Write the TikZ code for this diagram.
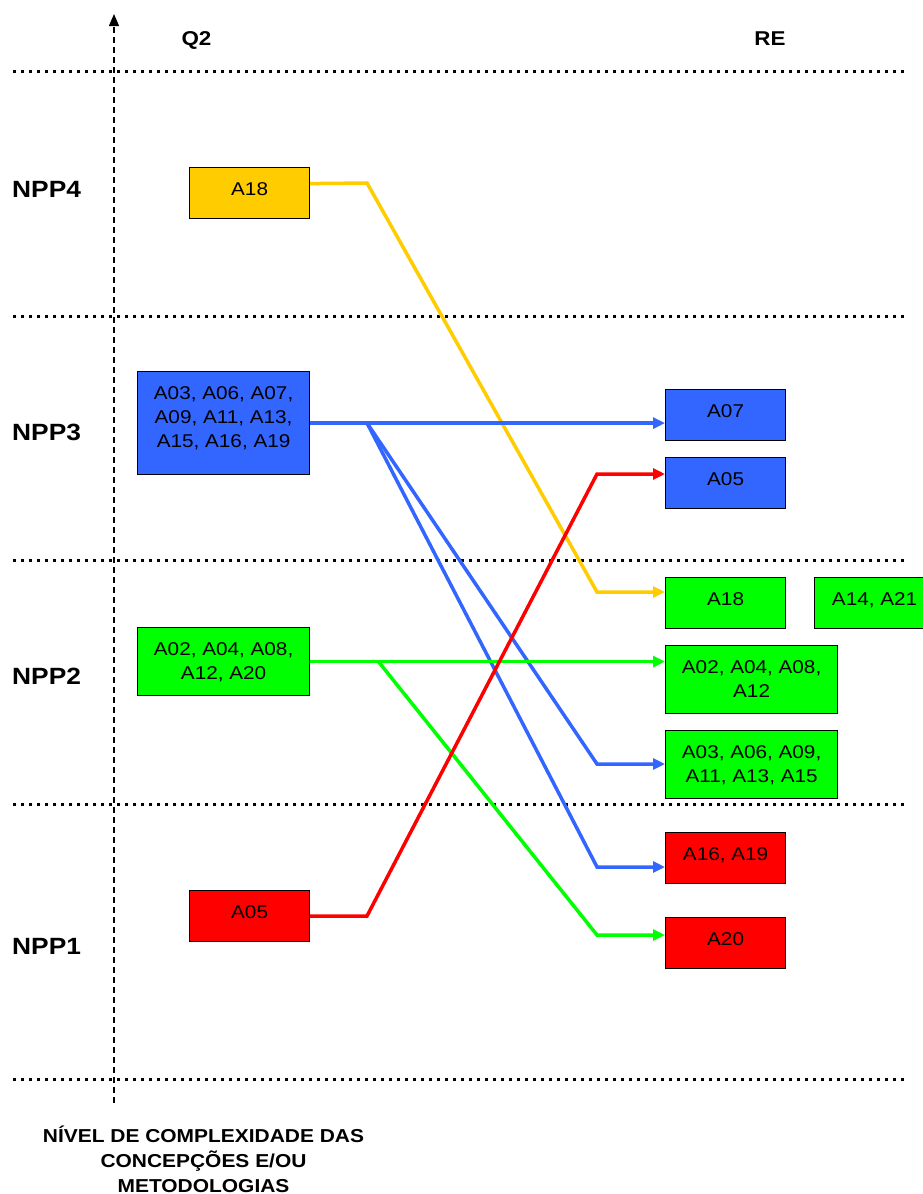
\documentclass[tikz,border=0pt]{standalone}
\usepackage{fontspec}
\setmainfont{Liberation Sans}[FakeStretch=1.12]
\usetikzlibrary{arrows.meta}
\definecolor{cyel}{HTML}{FFCC00}
\definecolor{cblu}{HTML}{3366FF}
\definecolor{cgrn}{HTML}{00FF00}
\definecolor{cred}{HTML}{FF0000}
\tikzset{
  box/.style={draw=black, line width=1.2pt, inner sep=0pt, align=center, anchor=north west,
    font=\fontsize{18.5}{24}\selectfont},
  onel/.style={text height=28pt, text depth=23pt},
  lvl/.style={anchor=base west, inner sep=0pt, font=\bfseries\fontsize{23.5}{28}\selectfont},
  head/.style={anchor=base, inner sep=0pt, font=\bfseries\fontsize{20}{24}\selectfont},
  sep/.style={line width=3pt, dash pattern=on 3pt off 5pt},
  axisline/.style={line width=1.3pt, dash pattern=on 6pt off 4pt, -{Triangle[length=12pt,width=10pt]}},
  conn/.style={line width=3.5pt, -{Triangle[length=12pt,width=11pt]}},
}
\begin{document}
\begin{tikzpicture}[x=1pt, y=-1pt]
\useasboundingbox (0,0) rectangle (923,1194);
% separators
\foreach \yy in {71,316,560,804,1079} \draw[sep] (13,\yy) -- (905,\yy);
% axis
\coordinate (axbot) at (114,1103);
\coordinate (axtop) at (114,14);
\draw[axisline] (axbot) -- (axtop);
% headers
\node[head] (hq2) at (196.5,45) {Q2};
\node[head] (hre) at (770,45) {RE};
% levels
\node[lvl] (npp4) at (12,197) {NPP4};
\node[lvl] (npp3) at (12,440) {NPP3};
\node[lvl] (npp2) at (12,684) {NPP2};
\node[lvl] (npp1) at (12,954) {NPP1};
% left boxes
\node[box, onel, fill=cyel, minimum width=120pt] (q4) at (189,167) {A18};
\node[box, fill=cblu, minimum width=172pt, text height=76pt, text depth=27pt] (q3) at (137,371) {A03, A06, A07,\\A09, A11, A13,\\A15, A16, A19};
\node[box, fill=cgrn, minimum width=172pt, text height=52pt, text depth=16pt] (q2) at (137,627) {A02, A04, A08,\\A12, A20};
\node[box, onel, fill=cred, minimum width=120pt] (q1) at (189,890) {A05};
% right boxes
\node[box, onel, fill=cblu, minimum width=120pt] (r07) at (665,389) {A07};
\node[box, onel, fill=cblu, minimum width=120pt] (r05) at (665,457) {A05};
\node[box, onel, fill=cgrn, minimum width=120pt] (r18) at (665,577) {A18};
\node[box, onel, fill=cgrn, minimum width=120pt] (r1421) at (814,577) {A14, A21};
\node[box, fill=cgrn, minimum width=172pt, text height=52pt, text depth=16pt] (r0204) at (665,645) {A02, A04, A08,\\A12};
\node[box, fill=cgrn, minimum width=172pt, text height=52pt, text depth=16pt] (r0306) at (665,730) {A03, A06, A09,\\A11, A13, A15};
\node[box, onel, fill=cred, minimum width=120pt] (r1619) at (665,832) {A16, A19};
\node[box, onel, fill=cred, minimum width=120pt] (r20) at (665,917) {A20};
% bend points
\coordinate (y1) at (367,183);
\coordinate (y2) at (597,592);
\coordinate (b1) at (367,423);
\coordinate (b2) at (597,764);
\coordinate (b3) at (597,867);
\coordinate (g1) at (378,661);
\coordinate (g2) at (597,935);
\coordinate (rd1) at (367,916);
\coordinate (rd2) at (597,474);
% connectors
\draw[conn, cyel] ([yshift=9.5pt]q4.east) -- (y1) -- (y2) -- (r18.west |- y2);
\draw[conn, cblu] (q3.east) -- (r07.west |- q3.east);
\draw[conn, cblu] (b1) -- (b2) -- (r0306.west |- b2);
\draw[conn, cblu] (b1) -- (b3) -- (r1619.west |- b3);
\draw[conn, cgrn] (q2.east) -- (r0204.west |- q2.east);
\draw[conn, cgrn] (g1) -- (g2) -- (r20.west |- g2);
\draw[conn, cred] (q1.east) -- (rd1) -- (rd2) -- (r05.west |- rd2);
% bottom caption
\node[anchor=north, inner sep=0pt, align=center, text height=64pt,
  font=\bfseries\fontsize{18.7}{25}\selectfont] (cap) at (203.5,1128)
  {NÍVEL DE COMPLEXIDADE DAS\\CONCEPÇÕES E/OU\\METODOLOGIAS};
\end{tikzpicture}
\end{document}
